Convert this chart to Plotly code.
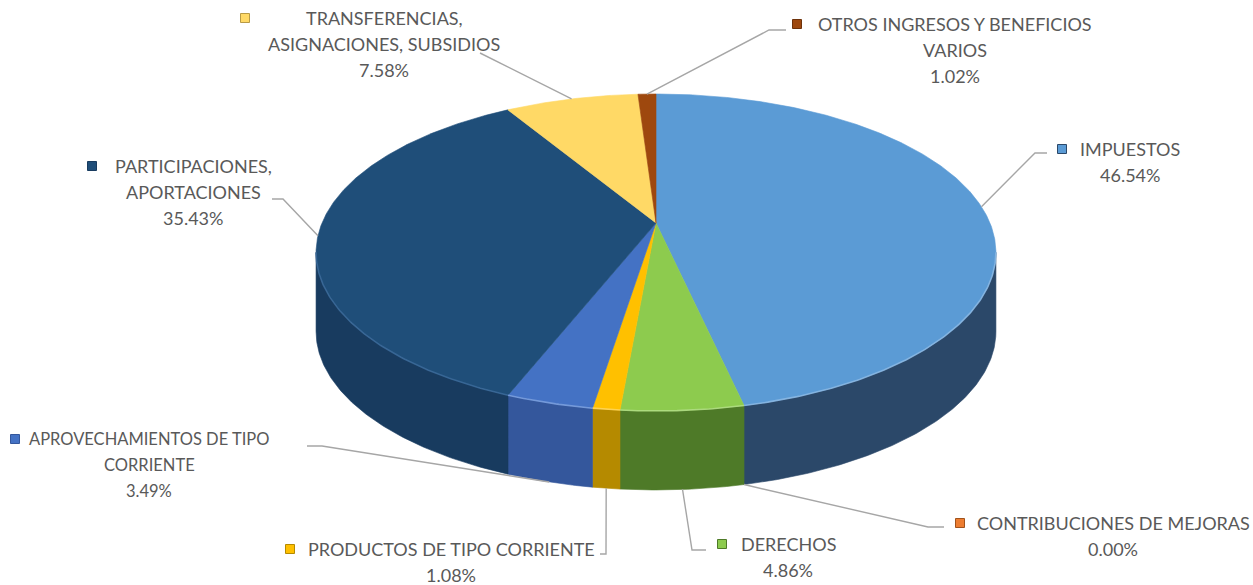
import numpy as np
import plotly.graph_objects as go

# ---------------- data ----------------
categories = ["IMPUESTOS", "CONTRIBUCIONES DE MEJORAS", "DERECHOS",
              "PRODUCTOS DE TIPO CORRIENTE", "APROVECHAMIENTOS DE TIPO CORRIENTE",
              "PARTICIPACIONES, APORTACIONES", "TRANSFERENCIAS, ASIGNACIONES, SUBSIDIOS",
              "OTROS INGRESOS Y BENEFICIOS VARIOS"]
shares = [46.54, 0.00, 4.86, 1.08, 3.49, 35.43, 7.58, 1.02]
label_lines = [["IMPUESTOS"], ["CONTRIBUCIONES DE MEJORAS"], ["DERECHOS"],
               ["PRODUCTOS DE TIPO CORRIENTE"], ["APROVECHAMIENTOS DE TIPO", "CORRIENTE"],
               ["PARTICIPACIONES,", "APORTACIONES"], ["TRANSFERENCIAS,", "ASIGNACIONES, SUBSIDIOS"],
               ["OTROS INGRESOS Y BENEFICIOS", "VARIOS"]]

# ---------------- styles ----------------
top_colors = ["#5B9BD5", "#ED7D31", "#8DCB4E", "#FFC000", "#4472C4", "#1F4E79", "#FFD966", "#9E480E"]
side_colors = ["#2B4869", "#A0521C", "#4E7A28", "#B58A00", "#34579C", "#183B5F", "#B89A45", "#6E320A"]
edge_colors = ["#8FBCE6", "#F4A872", "#B5E08A", "#FFD966", "#7FA3E0", "#3D6C9C", "#FFE9A6", "#C46A30"]
W, H = 1253, 585
CX, CY, A, B, K, DEPTH = 656, 223, 334, 153, 0.186, 79
TEXT_COLOR = "#595959"
FONT = "Lato"
FSIZE = 18
LINE_GAP = 26
LEADER_COLOR = "#A6A6A6"

# label layout: center x of text block, y of first line, legend key position, leader elbow/end points
label_layout = [
    dict(cx=1130, y0=149, key=(1062, 149), path=[(1035, 153), (1047, 153)], front=False),
    dict(cx=1113, y0=523, key=(960, 523), path=[(928, 527), (944, 527)], front=True),
    dict(cx=788, y0=544, key=(722, 544), path=[(692, 550), (706, 550)], front=True),
    dict(cx=451, y0=549, key=(290, 549), path=[(606, 554), (600, 554)], front=True),
    dict(cx=149, y0=439, key=(15, 439), path=[(322, 446), (307, 446)], front=True, size=16.5),
    dict(cx=193, y0=166, key=(92, 166), path=[(283, 199), (272, 199)], front=False),
    dict(cx=384, y0=18, key=(245, 18), path=[(480, 53)], front=False),
    dict(cx=955, y0=24, key=(797, 24), path=[(769, 30), (786, 30)], front=False),
]


def proj(phi_deg, dz=0.0):
    phi = np.radians(phi_deg)
    u = np.sin(phi)
    s = -np.cos(phi)
    f = 1.0 / (1.0 - K * s)
    return CX + A * u * f, CY + B * s * f + dz


# angular extents (clockwise from 12 o'clock)
total = sum(shares)
bounds = np.concatenate([[0], np.cumsum(shares)]) / total * 360.0

# silhouette extremes of the side wall
grid = np.linspace(0, 360, 7201)
gx, _ = proj(grid)
phi_right = grid[np.argmax(gx)]
phi_left = grid[np.argmin(gx)]

fig = go.Figure()

# side walls
for i in range(len(shares)):
    lo = max(bounds[i], phi_right)
    hi = min(bounds[i + 1], phi_left)
    if hi - lo <= 1e-6:
        continue
    ph = np.linspace(lo, hi, max(int((hi - lo) * 2) + 2, 3))
    tx, ty = proj(ph)
    bx, by = proj(ph[::-1], DEPTH)
    fig.add_trace(go.Scatter(x=np.concatenate([tx, bx, tx[:1]]), y=np.concatenate([ty, by, ty[:1]]),
                             mode="lines", fill="toself", fillcolor=side_colors[i],
                             line=dict(color=side_colors[i], width=0.6), hoverinfo="skip"))

# top faces
for i in range(len(shares)):
    lo, hi = bounds[i], bounds[i + 1]
    if hi - lo <= 1e-6:
        continue
    ph = np.linspace(lo, hi, max(int((hi - lo) * 2) + 2, 3))
    ax_, ay_ = proj(ph)
    fig.add_trace(go.Scatter(x=np.concatenate([[CX], ax_, [CX]]), y=np.concatenate([[CY], ay_, [CY]]),
                             mode="lines", fill="toself", fillcolor=top_colors[i],
                             line=dict(color=top_colors[i], width=0.6), hoverinfo="skip"))

# bevel highlight on the front top edge
for i in range(len(shares)):
    lo = max(bounds[i], phi_right)
    hi = min(bounds[i + 1], phi_left)
    if hi - lo <= 1e-6:
        continue
    ph = np.linspace(lo, hi, max(int((hi - lo) * 2) + 2, 3))
    ex, ey = proj(ph)
    fig.add_trace(go.Scatter(x=ex, y=ey, mode="lines", line=dict(color=edge_colors[i], width=1.6),
                             opacity=0.8, hoverinfo="skip"))

# leader lines
for i in range(len(shares)):
    mid = (bounds[i] + bounds[i + 1]) / 2
    lay = label_layout[i]
    sx, sy = proj(mid, DEPTH if lay["front"] else 0)
    xs = [float(sx)] + [p[0] for p in lay["path"]]
    ys = [float(sy)] + [p[1] for p in lay["path"]]
    fig.add_trace(go.Scatter(x=xs, y=ys, mode="lines", line=dict(color=LEADER_COLOR, width=1.4),
                             hoverinfo="skip"))

# legend keys
fig.add_trace(go.Scatter(x=[l["key"][0] for l in label_layout], y=[l["key"][1] for l in label_layout],
                         mode="markers",
                         marker=dict(symbol="square", size=9, color=top_colors,
                                     line=dict(color=side_colors, width=1)),
                         hoverinfo="skip"))

# label texts
for i in range(len(shares)):
    lay = label_layout[i]
    lines = label_lines[i] + [f"{shares[i]:.2f}%"]
    for j, t in enumerate(lines):
        fig.add_annotation(x=lay["cx"], y=lay["y0"] + j * LINE_GAP, text=t, showarrow=False,
                           xanchor="center", yanchor="middle",
                           font=dict(family=FONT, size=lay.get("size", FSIZE), color=TEXT_COLOR))

fig.update_layout(width=W, height=H, margin=dict(l=0, r=0, t=0, b=0),
                  paper_bgcolor="white", plot_bgcolor="white", showlegend=False,
                  xaxis=dict(range=[0, W], visible=False, fixedrange=True),
                  yaxis=dict(range=[H, 0], visible=False, fixedrange=True))

fig.write_html("out.html", config={"displayModeBar": False},
               post_script="document.body.style.margin='0';document.body.style.padding='0';"
                           "document.documentElement.style.overflow='hidden';")
